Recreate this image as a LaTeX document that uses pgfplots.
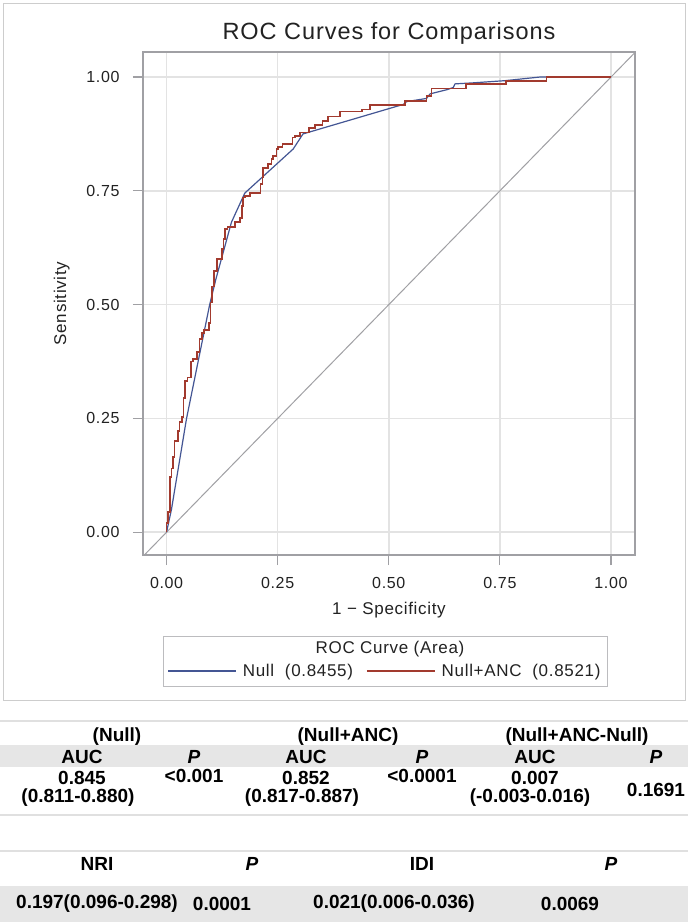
\documentclass[border=0pt]{standalone}
\usepackage{pgfplots}
\pgfplotsset{compat=1.18}
\usepackage{fontspec}
\setmainfont{Liberation Sans}
\newfontfamily\chartfont{Liberation Sans}[LetterSpace=4]
\definecolor{rocblue}{HTML}{445694}
\definecolor{rocred}{HTML}{A23A2E}
\definecolor{gridgray}{HTML}{E3E3E3}
\definecolor{framegray}{HTML}{A0A0A4}
\definecolor{outergray}{HTML}{CDCDCD}
\definecolor{bandgray}{HTML}{E6E6E6}
\definecolor{textgray}{HTML}{222222}
\definecolor{linegray}{HTML}{E0E0E0}
\newcommand{\tickf}{\chartfont\fontsize{16}{19}\selectfont}
\newcommand{\cf}{\chartfont\fontsize{17}{20}\selectfont}
\newcommand{\tf}{\fontsize{19}{22}\selectfont\bfseries}

\begin{document}
\begin{tikzpicture}
\useasboundingbox (0pt,0pt) rectangle (688pt,-924pt);
\fill[white] (0pt,0pt) rectangle (688pt,-924pt);
\draw[outergray, line width=1pt] (3pt,-3pt) rectangle (685pt,-700pt);
\node[font=\chartfont\fontsize{23.5}{27}\selectfont, text=textgray] at (389pt,-33pt) {ROC Curves for Comparisons};

\begin{axis}[
  at={(143pt,-555pt)}, anchor=south west,
  scale only axis, width=492pt, height=503pt,
  xmin=-0.053, xmax=1.054, ymin=-0.05, ymax=1.055,
  xtick={0,0.25,0.5,0.75,1}, ytick={0,0.25,0.5,0.75,1},
  xticklabels={0.00,0.25,0.50,0.75,1.00},
  yticklabels={0.00,0.25,0.50,0.75,1.00},
  xtick pos=bottom, ytick pos=left,
  tick align=outside, major tick length=10pt,
  tick style={framegray, line width=1.2pt},
  axis line style={framegray, line width=1.5pt},
  grid=major, major grid style={gridgray, line width=1.5pt},
  tick label style={font=\tickf, text=textgray},
  xticklabel style={yshift=-9pt},
  yticklabel style={xshift=-10pt},
  xlabel={1 − Specificity}, ylabel={Sensitivity},
  xlabel style={at={(axis description cs:0.5,-0.109)}, anchor=center, font=\cf, text=textgray},
  ylabel style={at={(axis description cs:-0.165,0.5)}, anchor=center, font=\cf, text=textgray},
  legend columns=2,
  legend style={draw=none, fill=none, at={(axis description cs:0.491,-0.2306)}, anchor=center,
    font=\cf, text=textgray, nodes={inner sep=1pt},
    /tikz/every odd column/.append style={column sep=5pt},
    /tikz/every even column/.append style={column sep=12pt}},
  legend image code/.code={\draw[#1] (0pt,0pt) -- (68pt,0pt);},
]
\addplot[framegray, line width=1pt, forget plot] coordinates {(-0.06,-0.06) (1.06,1.06)};
\addplot[rocblue, line width=1.2pt] coordinates {
(0,0) (0.011,0.05) (0.045,0.25) (0.097,0.50) (0.111,0.556) (0.146,0.681)
(0.176,0.745) (0.285,0.842) (0.307,0.875) (0.533,0.94) (0.54,0.946)
(0.585,0.953) (0.593,0.963) (0.63,0.972) (0.645,0.977) (0.649,0.985)
(0.686,0.987) (0.761,0.992) (0.84,1.0) (1,1)};
\addlegendentry{Null\ \ (0.8455)}
\addplot[rocred, line width=1.7pt, const plot] coordinates {
(0,0) (0,0.02) (0.004,0.045) (0.007,0.122) (0.011,0.14) (0.015,0.165)
(0.018,0.2) (0.025,0.222) (0.029,0.242) (0.034,0.253) (0.038,0.295)
(0.041,0.332) (0.047,0.34) (0.055,0.375) (0.06,0.38) (0.068,0.396)
(0.074,0.425) (0.079,0.438) (0.085,0.445) (0.095,0.46) (0.099,0.505)
(0.102,0.54) (0.106,0.574) (0.114,0.6) (0.124,0.622) (0.128,0.644)
(0.131,0.666) (0.137,0.67) (0.154,0.681) (0.165,0.69) (0.169,0.717)
(0.1725,0.7355) (0.176,0.739) (0.1875,0.746) (0.2115,0.765) (0.216,0.78)
(0.2175,0.80) (0.229,0.809) (0.236,0.82) (0.24,0.827) (0.2475,0.842)
(0.2512,0.846) (0.261,0.853) (0.2835,0.867) (0.2888,0.870) (0.300,0.878)
(0.321,0.888) (0.334,0.894) (0.351,0.904) (0.364,0.913) (0.39,0.924)
(0.439,0.929) (0.458,0.939) (0.537,0.948) (0.585,0.959) (0.596,0.975)
(0.674,0.985) (0.764,0.992) (0.855,1.0) (1.0,1.0)};
\addlegendentry{Null+ANC\ \ (0.8521)}
\end{axis}

% legend frame and title
\draw[framegray!70, line width=1pt] (163pt,-636pt) rectangle (607pt,-686pt);
\node[font=\cf, text=textgray] at (390pt,-649pt) {ROC Curve (Area)};

% table
\draw[linegray, line width=1.5pt] (0pt,-721pt) -- (688pt,-721pt);
\fill[bandgray] (0pt,-745pt) rectangle (688pt,-767pt);
\draw[linegray, line width=1.5pt] (0pt,-815pt) -- (688pt,-815pt);
\draw[linegray, line width=1.5pt] (0pt,-851pt) -- (688pt,-851pt);
\fill[bandgray] (0pt,-886pt) rectangle (688pt,-922pt);

\begin{scope}[every node/.style={font=\tf, text=black, inner sep=0pt, anchor=center}]
\node at (117pt,-737pt) {(Null)};
\node at (348pt,-737pt) {(Null+ANC)};
\node at (577pt,-737pt) {(Null+ANC-Null)};
\node at (82pt,-757pt) {AUC};
\node at (194pt,-757pt) {\itshape P};
\node at (306pt,-757pt) {AUC};
\node at (422pt,-757pt) {\itshape P};
\node at (535pt,-757pt) {AUC};
\node at (656pt,-757pt) {\itshape P};
\node at (82pt,-778pt) {0.845};
\node at (78pt,-798pt) {(0.811-0.880)};
\node at (194pt,-776pt) {<0.001};
\node at (306pt,-778pt) {0.852};
\node at (302pt,-798pt) {(0.817-0.887)};
\node at (422pt,-776pt) {<0.0001};
\node at (535pt,-778pt) {0.007};
\node at (530pt,-798pt) {(-0.003-0.016)};
\node at (656pt,-790pt) {0.1691};
\node at (97pt,-864pt) {NRI};
\node at (252pt,-864pt) {\itshape P};
\node at (422pt,-864pt) {IDI};
\node at (611pt,-864pt) {\itshape P};
\node at (97pt,-904pt) {0.197(0.096-0.298)};
\node at (222pt,-904pt) {0.0001};
\node at (394pt,-904pt) {0.021(0.006-0.036)};
\node at (570pt,-904pt) {0.0069};
\end{scope}
\end{tikzpicture}
\end{document}
